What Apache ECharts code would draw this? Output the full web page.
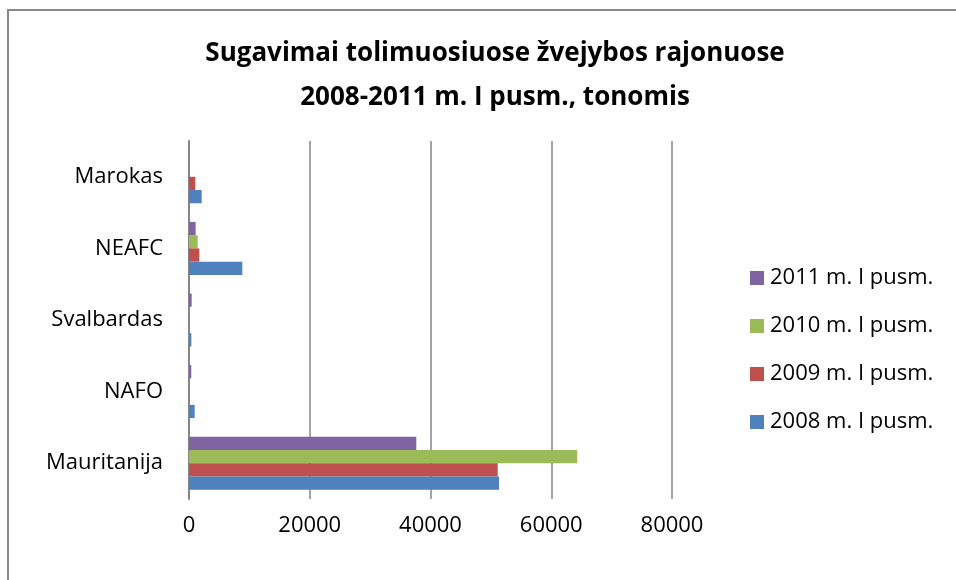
<!DOCTYPE html>
<html>
<head>
<meta charset="utf-8">
<script src="https://cdn.jsdelivr.net/npm/echarts@6/dist/echarts.min.js"></script>
<style>
  html, body { margin: 0; padding: 0; background: #fff; }
  #chart { width: 956px; height: 580px; }
</style>
</head>
<body>
<div id="chart"></div>
<script>
const regions = ["Mauritanija", "NAFO", "Svalbardas", "NEAFC", "Marokas"];
const seriesNames = ["2008 m. I pusm.", "2009 m. I pusm.", "2010 m. I pusm.", "2011 m. I pusm."];
const catch2008 = [51350, 940, 390, 8830, 2100];
const catch2009 = [51130, 0, 0, 1710, 1050];
const catch2010 = [64300, 0, 0, 1440, 0];
const catch2011 = [37650, 380, 440, 1100, 0];
const xTicks = [0, 20000, 40000, 60000, 80000];
const colors = ["#4f81bd", "#c0504d", "#9bbb59", "#8064a2"];

const font = "'Open Sans', sans-serif";
const chart = echarts.init(document.getElementById("chart"));

// ECharts stacks the first series at the top of each band, so feed them newest first
const allSeries = [catch2008, catch2009, catch2010, catch2011]
  .map((vals, i) => ({
    name: seriesNames[i],
    type: "bar",
    data: vals,
    barGap: "0%",
    barCategoryGap: "26%",
    itemStyle: { color: colors[i] },
  }))
  .reverse();

chart.setOption({
  animation: false,
  textStyle: { fontFamily: font },
  graphic: [
    {
      type: "rect",
      shape: { x: 8, y: 10, width: 1000, height: 700 },
      style: { fill: "none", stroke: "#888", lineWidth: 2 },
    },
  ],
  title: {
    text: "Sugavimai tolimuosiuose žvejybos rajonuose\n2008-2011 m. I pusm., tonomis",
    left: 490,
    textAlign: "center",
    top: 27,
    textStyle: {
      fontFamily: font,
      fontSize: 26,
      fontWeight: "bold",
      color: "#000",
      lineHeight: 44,
    },
  },
  legend: {
    orient: "vertical",
    left: 745,
    top: 262,
    itemWidth: 14,
    itemHeight: 14,
    itemGap: 26,
    icon: "rect",
    data: seriesNames.slice().reverse(),
    textStyle: { fontFamily: font, fontSize: 22, color: "#000", padding: [0, 0, 0, 1] },
  },
  grid: { left: 189, right: 284, top: 141, bottom: 81 },
  xAxis: {
    type: "value",
    min: xTicks[0],
    max: xTicks[xTicks.length - 1],
    interval: 20000,
    axisLine: { show: false },
    axisTick: { show: false },
    axisLabel: { fontSize: 22, color: "#000", margin: 16, fontFamily: font, formatter: (v) => String(v) },
    splitLine: { lineStyle: { color: "#868686", width: 1.5 } },
  },
  yAxis: {
    type: "category",
    data: regions,
    axisLine: { show: true, lineStyle: { color: "#868686", width: 2 } },
    axisTick: { show: false },
    axisLabel: { fontSize: 22, color: "#000", margin: 26, fontFamily: font },
  },
  series: allSeries,
});
</script>
</body>
</html>
